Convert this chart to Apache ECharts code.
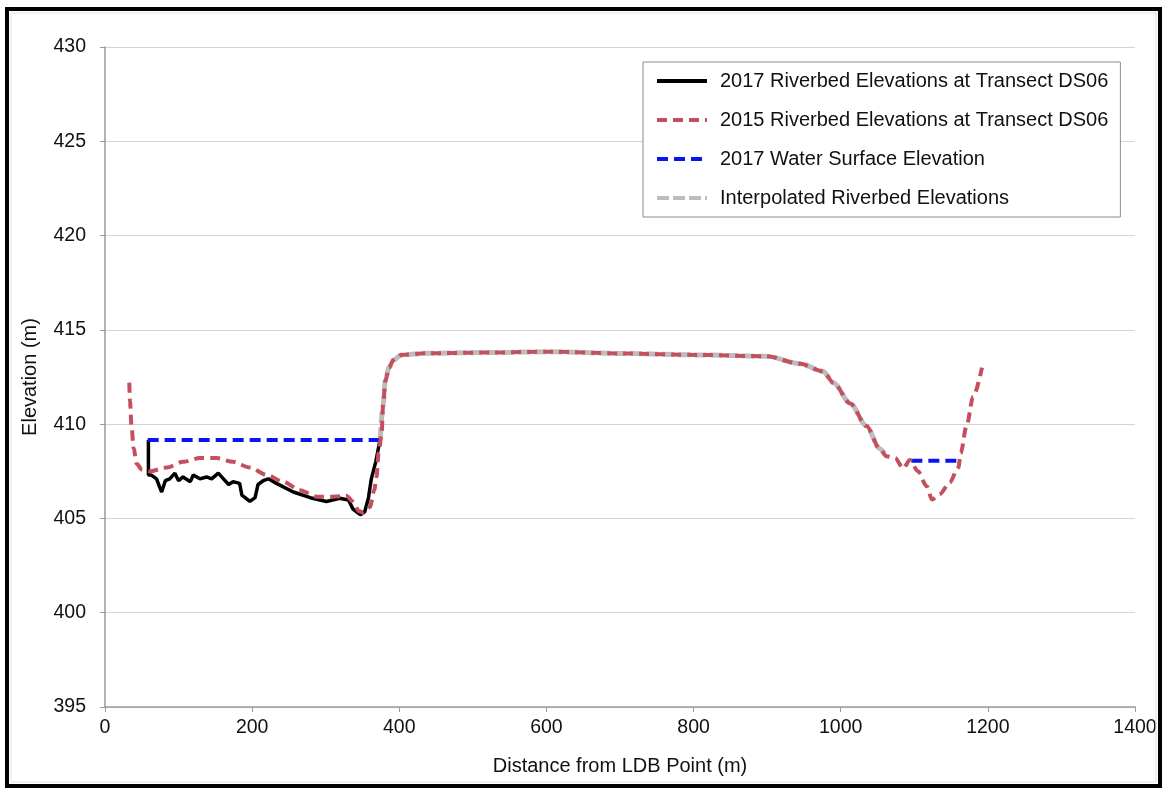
<!DOCTYPE html>
<html>
<head>
<meta charset="utf-8">
<script src="https://cdn.jsdelivr.net/npm/echarts@6/dist/echarts.min.js"></script>
<style>
html,body{margin:0;padding:0;background:#fff;}
#chart{width:1164px;height:789px;}
</style>
</head>
<body>
<div id="chart"></div>
<script>
// ---- data (distance m, elevation m) ----
var riverbed2017 = [[59,409.16],[59,407.3],[63,407.3],[70,407.1],[77,406.4],[82,407.0],[88,407.1],[95,407.4],[100,407.0],[106,407.2],[116,406.95],[120,407.3],[129,407.1],[138,407.2],[145,407.1],[154,407.4],[161,407.1],[168,406.8],[174,406.95],[183,406.86],[186,406.24],[197,405.9],[204,406.1],[208,406.8],[215,407.0],[222,407.1],[233,406.86],[256,406.4],[279,406.1],[301,405.9],[319,406.07],[331,405.98],[337,405.5],[347,405.2],[353,405.35],[358,406.07],[362,407.1],[368,408.0],[374,409.2]];
var riverbed2015 = [[33,412.2],[34,411.2],[36,409.9],[39,408.7],[43,407.9],[50,407.6],[61,407.5],[84,407.7],[106,408.0],[129,408.2],[152,408.2],[174,408.0],[197,407.7],[220,407.3],[242,406.95],[265,406.5],[288,406.15],[310,406.15],[328,406.2],[337,405.9],[345,405.4],[351,405.3],[360,405.6],[366,406.5],[369,407.2],[372,408.5],[376,409.5],[378,411.0],[381,412.3],[386,413.0],[392,413.4],[403,413.67],[437,413.76],[528,413.8],[605,413.84],[700,413.75],[809,413.67],[899,413.6],[945,413.2],[976,412.8],[990,412.2],[1013,411.1],[1035,409.9],[1053,408.7],[1062,408.3],[1074,408.2],[1085,407.65],[1094,408.1],[1105,407.5],[1117,406.7],[1124,406.0],[1135,406.3],[1148,406.9],[1160,407.7],[1163,408.45],[1171,409.9],[1180,411.45],[1192,413.0]];
var waterSurface2017 = [[58,409.16],[374,409.16],[700,'-'],[1096,408.06],[1162,408.06]];
var interpolated = [[374,409.2],[378,411.0],[381,412.3],[386,413.0],[392,413.4],[403,413.67],[437,413.76],[528,413.8],[605,413.84],[700,413.75],[809,413.67],[899,413.6],[945,413.2],[976,412.8],[990,412.2],[1013,411.1],[1035,409.9],[1053,408.7],[1062,408.3]];
var seriesNames = ['2017 Riverbed Elevations at Transect DS06','2015 Riverbed Elevations at Transect DS06','2017 Water Surface Elevation','Interpolated Riverbed Elevations'];
var xTicks = {min:0, max:1400, interval:200};
var yTicks = {min:395, max:430, interval:5};

var FONT = '"Liberation Sans", Arial, sans-serif';
var chart = echarts.init(document.getElementById('chart'), null, {renderer:'canvas'});
chart.setOption({
  backgroundColor:'#fff',
  animation:false,
  textStyle:{fontFamily:FONT},
  grid:{left:105, top:47, right:29, bottom:82, containLabel:false},
  graphic:[
    {type:'rect', shape:{x:7,y:9,width:1153,height:777}, style:{fill:null, stroke:'#000', lineWidth:4}, z:100},
    {type:'rect', shape:{x:11,y:13,width:1145,height:769}, style:{fill:null, stroke:'#e2e2e2', lineWidth:1}, z:99}
  ],
  legend:{
    orient:'vertical', left:643, top:62,
    data:seriesNames,
    backgroundColor:'#fff',
    borderColor:'#8c8c8c', borderWidth:1,
    padding:[8,12,8,12],
    itemWidth:50, itemHeight:14, itemGap:17,
    itemStyle:{opacity:0},
    lineStyle:{width:4},
    textStyle:{fontFamily:FONT, fontSize:20, color:'#111', lineHeight:22, padding:[0,0,0,8]}
  },
  xAxis:{
    type:'value', min:xTicks.min, max:xTicks.max, interval:xTicks.interval,
    name:'Distance from LDB Point (m)', nameLocation:'middle', nameGap:49,
    nameTextStyle:{fontFamily:FONT, fontSize:20, color:'#111'},
    axisLine:{show:true, lineStyle:{color:'#9a9a9a', width:1.5}},
    axisTick:{show:true, length:5, lineStyle:{color:'#9a9a9a'}},
    axisLabel:{fontFamily:FONT, fontSize:19.5, color:'#111', margin:11, formatter:function(v){return String(v);}},
    splitLine:{show:false}
  },
  yAxis:{
    type:'value', min:yTicks.min, max:yTicks.max, interval:yTicks.interval,
    name:'Elevation (m)', nameLocation:'middle', nameGap:65, nameRotate:90,
    nameTextStyle:{fontFamily:FONT, fontSize:20, color:'#111'},
    axisLine:{show:true, lineStyle:{color:'#9a9a9a', width:1.5}},
    axisTick:{show:true, length:5, lineStyle:{color:'#9a9a9a'}},
    axisLabel:{fontFamily:FONT, fontSize:19.5, color:'#111', margin:19, formatter:function(v){return String(v);}},
    splitLine:{show:true, lineStyle:{color:'#d4d4d4', width:1}}
  },
  series:[
    {name:seriesNames[0], type:'line', data:riverbed2017, symbol:'none', z:3,
     lineStyle:{color:'#000', width:3.5, type:'solid'}, itemStyle:{color:'#000'}},
    {name:seriesNames[1], type:'line', data:riverbed2015, symbol:'none', z:5, smooth:0.3, smoothMonotone:'x',
     lineStyle:{color:'#c4505f', width:4, type:[10,6]}, itemStyle:{color:'#c4505f'}},
    {name:seriesNames[2], type:'line', data:waterSurface2017, symbol:'none', z:4, connectNulls:false,
     lineStyle:{color:'#0a14f0', width:4, type:[11,6]}, itemStyle:{color:'#0a14f0'}},
    {name:seriesNames[3], type:'line', data:interpolated, symbol:'none', z:2, smooth:0.3, smoothMonotone:'x',
     lineStyle:{color:'#bdbdbd', width:5, type:[12,4]}, itemStyle:{color:'#bdbdbd'}}
  ]
});
</script>
</body>
</html>
